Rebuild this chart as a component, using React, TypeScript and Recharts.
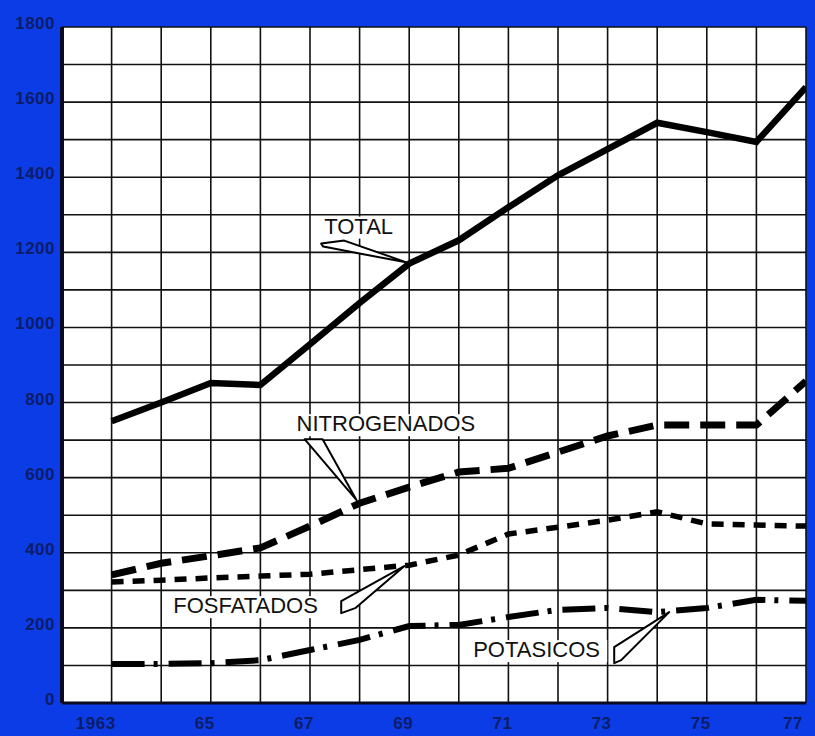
import React from 'react';
import { LineChart, Line, XAxis, YAxis, CartesianGrid, ReferenceDot } from 'recharts';

const years = [1963, 1964, 1965, 1966, 1967, 1968, 1969, 1970, 1971, 1972, 1973, 1974, 1975, 1976, 1977];
const total = [750, 800, 852, 847, 955, 1065, 1170, 1232, 1320, 1405, 1475, 1545, 1520, 1494, 1640];
const nitrogenados = [341, 372, 392, 413, 471, 532, 575, 615, 625, 668, 711, 740, 740, 740, 857];
const fosfatados = [322, 327, 333, 338, 343, 355, 367, 394, 450, 468, 487, 509, 477, 474, 471];
const potasicos = [104, 104, 106, 114, 141, 168, 205, 208, 229, 248, 253, 242, 253, 275, 272];

const xTicks = [1963, 1965, 1967, 1969, 1971, 1973, 1975, 1977];
const yTicks = [0, 200, 400, 600, 800, 1000, 1200, 1400, 1600, 1800];
const gridYears = [1962, 1963, 1964, 1965, 1966, 1967, 1968, 1969, 1970, 1971, 1972, 1973, 1974, 1975, 1976, 1977];
const gridValues = [0, 100, 200, 300, 400, 500, 600, 700, 800, 900, 1000, 1100, 1200, 1300, 1400, 1500, 1600, 1700, 1800];

const data = years.map((y, i) => ({
  year: y,
  total: total[i],
  nitrogenados: nitrogenados[i],
  fosfatados: fosfatados[i],
  potasicos: potasicos[i],
}));

const BLUE = '#0b3ce6';
const TICK_COLOR = '#0d1d66';
const LABEL_FONT = '"Liberation Sans", Arial, sans-serif';

const makeCallout = (label: string, tx: number, ty: number, tw: number, poly: number[][]) => (props: any) => {
  const { cx, cy } = props;
  if (cx == null || cy == null) return null;
  const pts = poly.map(([dx, dy]) => `${cx + dx},${cy + dy}`).join(' ');
  return (
    <g>
      <rect x={cx + tx - 3} y={cy + ty - 17} width={tw + 6} height={22} fill="#fff" />
      <polygon points={pts} fill="#fff" stroke="#000" strokeWidth={2} strokeLinejoin="round" />
      <text x={cx + tx} y={cy + ty} fontFamily={LABEL_FONT} fontSize={22} fill="#111">{label}</text>
    </g>
  );
};

const TotalShape = makeCallout('TOTAL', -85, -30, 72, [[-88, -20], [-65, -23], [-2, -1], [-86, -17]]);
const NitroShape = makeCallout('NITROGENADOS', -63, -72, 181, [[-55, -64], [-37, -64], [-3, -3]]);
const FosfShape = makeCallout('FOSFATADOS', -236, 48, 153, [[-68, 36], [-5, 1], [-54, 43], [-68, 48]]);
const PotaShape = makeCallout('POTASICOS', -184, 45, 131, [[-43, 35], [12, 0], [-36, 48], [-43, 51]]);

const XTick = (props: any) => {
  const { x, y, payload } = props;
  const v = payload.value as number;
  const label = v === 1963 ? '1963' : String(v % 100);
  return (
    <text
      x={v === 1963 ? x + 4 : x - 6}
      y={y}
      dy="0.35em"
      textAnchor={v === 1963 ? 'end' : 'middle'}
      fill={TICK_COLOR}
      fontSize={17}
      fontWeight="bold"
      letterSpacing={0.5}
      fontFamily={LABEL_FONT}
    >
      {label}
    </text>
  );
};

const YTick = (props: any) => {
  const { x, y, payload } = props;
  return (
    <text
      x={x}
      y={y - 4}
      dy="0.35em"
      textAnchor="end"
      fill={TICK_COLOR}
      fontSize={17}
      fontWeight="bold"
      letterSpacing={0.5}
      fontFamily={LABEL_FONT}
    >
      {payload.value}
    </text>
  );
};

export default function App() {
  return (
    <div style={{ position: 'absolute', left: 0, top: 0, width: 815, height: 736, background: BLUE, overflow: 'hidden' }}>
      <LineChart
        width={815}
        height={736}
        data={data}
        margin={{ top: 27, right: 9, left: 0, bottom: 0 }}
      >
        <CartesianGrid
          stroke="#111"
          strokeWidth={1.6}
          horizontalValues={gridValues}
          verticalValues={gridYears}
          fill="#ffffff"
          fillOpacity={1}
        />
        <XAxis
          dataKey="year"
          type="number"
          domain={[1962, 1977]}
          ticks={xTicks}
          allowDataOverflow
          height={33}
          tickLine={false}
          tickSize={0}
          tickMargin={20}
          axisLine={{ stroke: '#0a0a20', strokeWidth: 3 }}
          tick={<XTick />}
        />
        <YAxis
          type="number"
          domain={[0, 1800]}
          ticks={yTicks}
          width={62}
          tickLine={false}
          tickSize={0}
          tickMargin={7}
          axisLine={{ stroke: '#0a0a20', strokeWidth: 4 }}
          tick={<YTick />}
        />
        <ReferenceDot x={1969} y={total[6]} r={0} shape={TotalShape} ifOverflow="visible" />
        <ReferenceDot x={1968} y={nitrogenados[5]} r={0} shape={NitroShape} ifOverflow="visible" />
        <ReferenceDot x={1969} y={fosfatados[6]} r={0} shape={FosfShape} ifOverflow="visible" />
        <ReferenceDot x={1974} y={potasicos[11]} r={0} shape={PotaShape} ifOverflow="visible" />
        <Line type="linear" dataKey="total" stroke="#000" strokeWidth={6.5} dot={false} isAnimationActive={false} />
        <Line type="linear" dataKey="nitrogenados" stroke="#000" strokeWidth={7} strokeDasharray="25 11" dot={false} isAnimationActive={false} />
        <Line type="linear" dataKey="fosfatados" stroke="#000" strokeWidth={5.5} strokeDasharray="12 9" dot={false} isAnimationActive={false} />
        <Line type="linear" dataKey="potasicos" stroke="#000" strokeWidth={6} strokeDasharray="33 9 4 11" dot={false} isAnimationActive={false} />
      </LineChart>
    </div>
  );
}
